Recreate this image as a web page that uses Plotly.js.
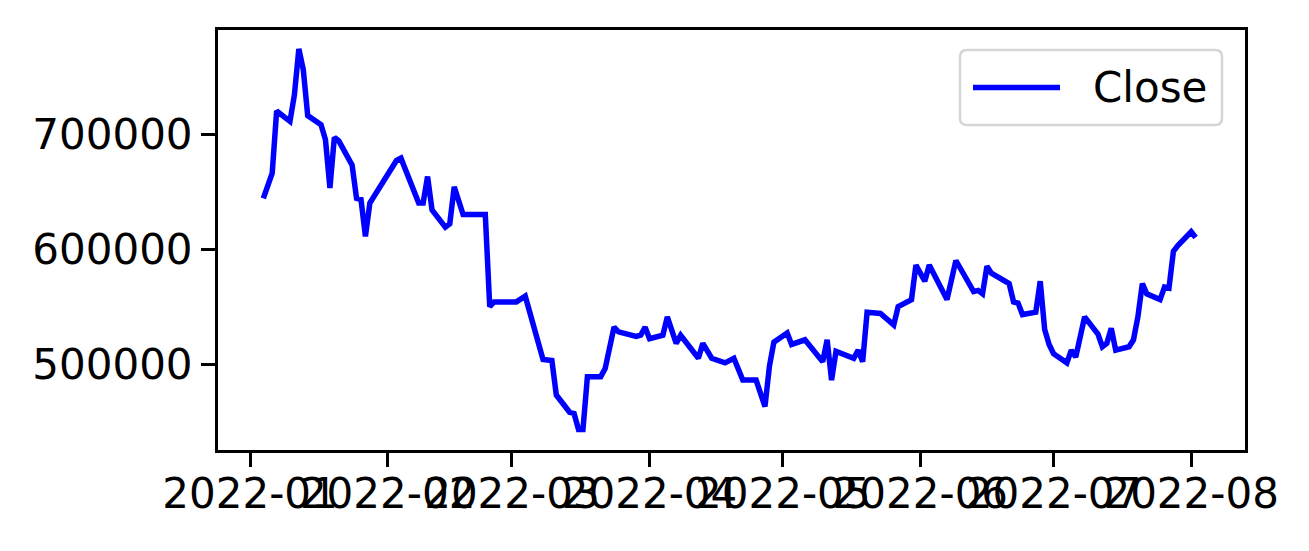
<!DOCTYPE html>
<html>
<head>
<meta charset="utf-8">
<script src="https://cdn.plot.ly/plotly-3.0.1.min.js"></script>
<style>html,body{margin:0;padding:0;background:#fff;}#chart{width:1309px;height:551px;}</style>
</head>
<body>
<div id="chart"></div>
<script>
const dates = [
  "2022-01-04","2022-01-06","2022-01-07","2022-01-10","2022-01-11","2022-01-12","2022-01-13","2022-01-14",
  "2022-01-17","2022-01-18","2022-01-19","2022-01-20","2022-01-21","2022-01-24","2022-01-25","2022-01-26",
  "2022-01-27","2022-01-28","2022-02-03","2022-02-04","2022-02-08","2022-02-09","2022-02-10","2022-02-11",
  "2022-02-14","2022-02-15","2022-02-16","2022-02-18","2022-02-21","2022-02-22","2022-02-23","2022-02-24",
  "2022-02-25","2022-03-02","2022-03-03","2022-03-04","2022-03-08","2022-03-10","2022-03-11","2022-03-14",
  "2022-03-15","2022-03-16","2022-03-17","2022-03-18","2022-03-21","2022-03-22","2022-03-24","2022-03-25",
  "2022-03-29","2022-03-30","2022-03-31","2022-04-01","2022-04-04","2022-04-05","2022-04-07","2022-04-08",
  "2022-04-12","2022-04-13","2022-04-15","2022-04-18","2022-04-20","2022-04-22","2022-04-25","2022-04-27",
  "2022-04-28","2022-04-29","2022-05-02","2022-05-03","2022-05-06","2022-05-10","2022-05-11","2022-05-12",
  "2022-05-13","2022-05-17","2022-05-18","2022-05-19","2022-05-20","2022-05-23","2022-05-26","2022-05-27",
  "2022-05-30","2022-05-31","2022-06-02","2022-06-03","2022-06-07","2022-06-09","2022-06-13","2022-06-14",
  "2022-06-15","2022-06-16","2022-06-17","2022-06-21","2022-06-22","2022-06-23","2022-06-24","2022-06-27",
  "2022-06-28","2022-06-29","2022-06-30","2022-07-01","2022-07-04","2022-07-05","2022-07-06","2022-07-08",
  "2022-07-11","2022-07-12","2022-07-13","2022-07-14","2022-07-15","2022-07-18","2022-07-19","2022-07-20",
  "2022-07-21","2022-07-22","2022-07-25","2022-07-26","2022-07-27","2022-07-28","2022-07-29","2022-08-01",
  "2022-08-02"
];
const closeValues = [
  644000,666000,720000,711000,734000,774000,756000,716000,
  708000,695000,653000,697000,694000,673000,644000,643000,
  611000,640000,677000,679000,640000,640000,663000,634000,
  619000,622000,654000,630000,630000,630000,630000,550000,
  554000,554000,557000,559000,504000,503000,473000,458000,
  457000,443000,443000,489000,489000,496000,532000,528000,
  524000,525000,532000,522000,525000,541000,518000,525000,
  505000,518000,505000,501000,505000,486000,486000,463000,
  498000,519000,527000,517000,521000,502000,521000,486000,
  511000,505000,512000,502000,545000,544000,534000,550000,
  556000,586000,572000,586000,556000,590000,563000,564000,
  561000,585000,579000,570000,554000,553000,543000,545000,
  572000,530000,517000,509000,501000,512000,506000,541000,
  526000,515000,518000,531000,512000,515000,521000,541000,
  570000,561000,556000,567000,566000,598000,603000,615000,
  610000
];
const seriesName = "Close";
const xTickVals = ["2022-01-01","2022-02-01","2022-03-01","2022-04-01","2022-05-01","2022-06-01","2022-07-01","2022-08-01"];
const xTickText = ["2022-01","2022-02","2022-03","2022-04","2022-05","2022-06","2022-07","2022-08"];
const yTickVals = [500000, 600000, 700000];
const yTickText = ["500000", "600000", "700000"];

const W = 1309, H = 551;
const M = {l: 218, r: 64, t: 30, b: 101};
const PW = W - M.l - M.r, PH = H - M.t - M.b;
const px = v => (v - M.l) / PW;          // pixel x -> paper x
const py = v => (M.t + PH - v) / PH;     // pixel y -> paper y

const font = {family: "DejaVu Sans, sans-serif", size: 42, color: "#000"};
const lineColor = "#0000ff";

// legend box (drawn as a matplotlib-style legend)
const L = {x0: 960, x1: 1222, y0: 50, y1: 125, r: 7};
function roundRect(b) {
  const rx = b.r / PW, ry = b.r / PH;
  const X0 = px(b.x0), X1 = px(b.x1), Yt = py(b.y0), Yb = py(b.y1);
  return `M${X0 + rx},${Yt} L${X1 - rx},${Yt} Q${X1},${Yt} ${X1},${Yt - ry} ` +
         `L${X1},${Yb + ry} Q${X1},${Yb} ${X1 - rx},${Yb} L${X0 + rx},${Yb} ` +
         `Q${X0},${Yb} ${X0},${Yb + ry} L${X0},${Yt - ry} Q${X0},${Yt} ${X0 + rx},${Yt} Z`;
}
const legendMidY = (L.y0 + L.y1) / 2;

const trace = {
  x: dates, y: closeValues, type: "scatter", mode: "lines", name: seriesName,
  line: {color: lineColor, width: 5.5}, showlegend: false
};

const axisCommon = {
  showgrid: false, zeroline: false,
  showline: true, mirror: true, linecolor: "#000", linewidth: 3,
  ticks: "outside", ticklen: 14, tickwidth: 3, tickcolor: "#000",
  tickfont: font
};

const layout = {
  width: W, height: H,
  margin: {l: M.l, r: M.r, t: M.t, b: M.b, pad: 0},
  paper_bgcolor: "#fff", plot_bgcolor: "#fff",
  font: font,
  showlegend: false,
  xaxis: Object.assign({}, axisCommon, {
    type: "date",
    range: ["2021-12-24 19:00", "2022-08-13 03:00"],
    tickmode: "array", tickvals: xTickVals, ticktext: xTickText,
    tickangle: 0, ticklabelstandoff: -9
  }),
  yaxis: Object.assign({}, axisCommon, {
    range: [425217, 790435],
    tickmode: "array", tickvals: yTickVals, ticktext: yTickText
  }),
  shapes: [
    {type: "path", xref: "paper", yref: "paper", path: roundRect(L),
     fillcolor: "rgba(255,255,255,0.8)", line: {color: "#d5d5d5", width: 2.5}, layer: "above"},
    {type: "line", xref: "paper", yref: "paper",
     x0: px(973), x1: px(1060), y0: py(legendMidY), y1: py(legendMidY),
     line: {color: lineColor, width: 5.5}, layer: "above"}
  ],
  annotations: [
    {xref: "paper", yref: "paper", x: px(1091), y: py(legendMidY),
     xanchor: "left", yanchor: "middle", text: seriesName, showarrow: false,
     font: font}
  ]
};

Plotly.newPlot("chart", [trace], layout, {staticPlot: true, displayModeBar: false});
</script>
</body>
</html>
